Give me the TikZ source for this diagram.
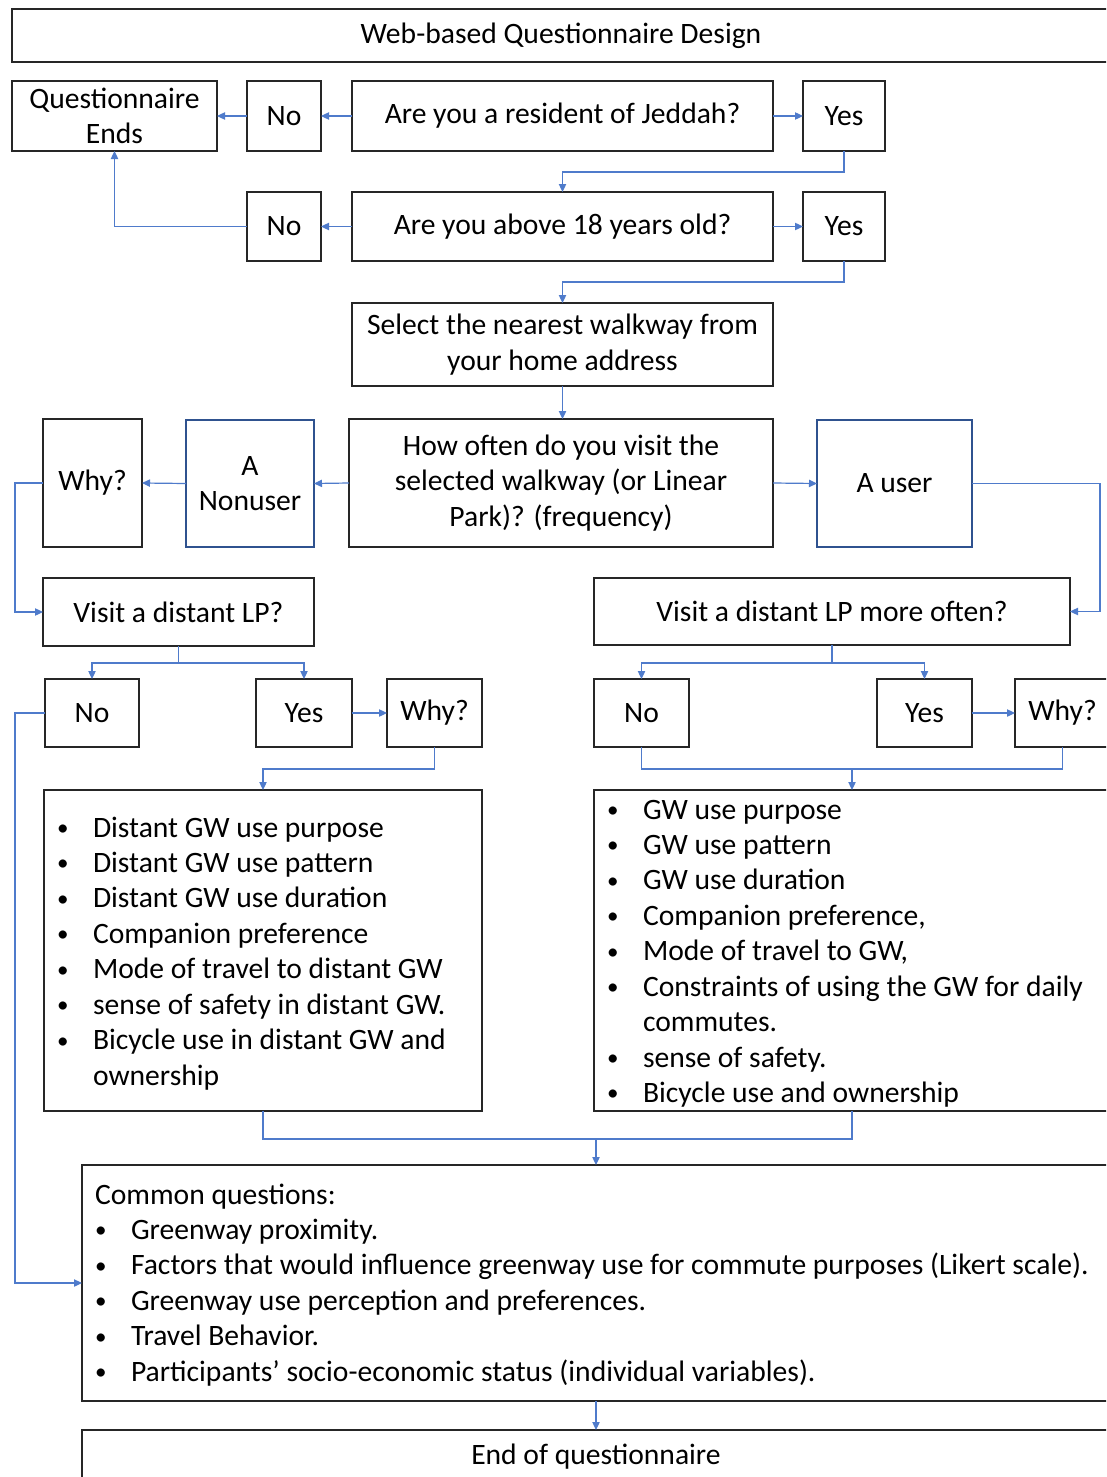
\documentclass[tikz,border=0pt]{standalone}
\usepackage{fontspec}
\usepackage{graphicx}
\setmainfont{Carlito}
\usetikzlibrary{arrows.meta}
\definecolor{link}{HTML}{4F7BCB}
\definecolor{edgeblue}{HTML}{2F528F}
% a bullet a little smaller than the font's own
\newcommand\itemdot{\raisebox{0.06em}{\scalebox{0.78}{\textbullet}}}
\begin{document}
\begin{tikzpicture}[x=0.75pt,y=-0.75pt,
  txt/.style={font=\fontsize{22.2}{26.6}\selectfont},
  box/.style 2 args={draw=black!85, line width=1.1pt, inner sep=0pt, outer sep=0pt,
    minimum width=#1*0.75pt, minimum height=#2*0.75pt, align=center, txt},
  bluebox/.style 2 args={box={#1}{#2}, draw=edgeblue},
  list/.style={inner sep=0pt, outer sep=0pt, anchor=base west, align=left, txt},
  conn/.style={draw=link, line width=0.9pt},
  arr/.style={conn, -{Triangle[length=6pt,width=5.5pt]}}]
\useasboundingbox (0,0) rectangle (1106,1477);
\clip (0,0) rectangle (1106,1477);
\fill[white] (0,0) rectangle (1106,1477);

% title
\node[box={1098}{53}] (title) at (561,35.5) {Web-based Questionnaire Design};

% screening questions
\node[box={205}{70}] (qend) at (114.5,116) {Questionnaire\\Ends};
\node[box={74}{70}] (no1) at (284,116) {No};
\node[box={421}{70}] (q1) at (562.5,116) {Are you a resident of Jeddah?};
\node[box={82}{70}] (yes1) at (844,116) {Yes};
\node[box={74}{69}] (no2) at (284,226.5) {No};
\node[box={421}{69}] (q2) at (562.5,226.5) {Are you above 18 years old?};
\node[box={82}{69}] (yes2) at (844,226.5) {Yes};
\node[box={421}{83}] (sel) at (562.5,344.5) {Select the nearest walkway from\\your home address};

% frequency split
\node[box={424}{128}] (freq) at (561,483) {How often do you visit the\\selected walkway (or Linear\\Park)? (frequency)};
\node[bluebox={155}{127}] (user) at (894.5,483.5) {A user};
\node[bluebox={128}{127}] (nonuser) at (250,483.5) {A\\Nonuser};
\node[box={99}{128}] (why1) at (92.5,483) {Why?};

% distant LP questions
\node[box={271}{68}] (vlp) at (178.5,612) {Visit a distant LP?};
\node[box={476}{67}] (vlpm) at (832,611.5) {Visit a distant LP more often?};
\node[box={94}{68}] (noL) at (92,713) {No};
\node[box={96}{68}] (yesL) at (304,713) {Yes};
\node[box={95}{68}] (whyL) at (434.5,713) {Why?};
\node[box={95}{68}] (noR) at (641.5,713) {No};
\node[box={95}{68}] (yesR) at (924.5,713) {Yes};
\node[box={95}{68}] (whyR) at (1062.5,713) {Why?};

% detail lists
\node[box={438}{321}] (bl) at (263,950.5) {};
\node[list] (bltext) at (57,837) {\begin{tabular}[t]{@{}p{27pt}@{}l@{}}
\itemdot & Distant GW use purpose\\
\itemdot & Distant GW use pattern\\
\itemdot & Distant GW use duration\\
\itemdot & Companion preference\\
\itemdot & Mode of travel to distant GW\\
\itemdot & sense of safety in distant GW.\\
\itemdot & Bicycle use in distant GW and\\
 & ownership
\end{tabular}};
\node[box={516}{321}] (br) at (852,950.5) {};
\node[list] (brtext) at (607,819) {\begin{tabular}[t]{@{}p{27pt}@{}l@{}}
\itemdot & GW use purpose\\
\itemdot & GW use pattern\\
\itemdot & GW use duration\\
\itemdot & Companion preference,\\
\itemdot & Mode of travel to GW,\\
\itemdot & Constraints of using the GW for daily\\
 & commutes.\\
\itemdot & sense of safety.\\
\itemdot & Bicycle use and ownership
\end{tabular}};

% common questions and end
\node[box={1028}{236}] (com) at (596,1283) {};
\node[list] (comtext) at (95,1204) {\begin{tabular}[t]{@{}p{27pt}@{}l@{}}
\multicolumn{2}{@{}l@{}}{Common questions:}\\
\itemdot & Greenway proximity.\\
\itemdot & Factors that would influence greenway use for commute purposes (Likert scale).\\
\itemdot & Greenway use perception and preferences.\\
\itemdot & Travel Behavior.\\
\itemdot & Participants’ socio-economic status (individual variables).
\end{tabular}};
\node[box={1028}{54}] (endb) at (596,1457) {End of questionnaire};

% junction points
\coordinate (jR) at (852,769);
\coordinate (jB) at (596,1139);

% connectors: screening
\draw[arr] (q1.west) -- (no1.east);
\draw[arr] (no1.west) -- (qend.east);
\draw[arr] (q1.east) -- (yes1.west);
\draw[arr] (yes1.south) -- ++(0,21) -| (q2.north);
\draw[arr] (q2.west) -- (no2.east);
\draw[arr] (q2.east) -- (yes2.west);
\draw[arr] (no2.west) -| (qend.south);
\draw[arr] (yes2.south) -- ++(0,21) -| (sel.north);
\draw[arr] (sel.south) -- (sel.south |- freq.north);

% connectors: user / nonuser
\draw[arr] (freq.west) -- (nonuser.east);
\draw[arr] (nonuser.west) -- (why1.east);
\draw[arr] (freq.east) -- (user.west);
\draw[arr] (why1.west) -- ++(-28,0) |- (vlp.west);
\draw[arr] (user.east) -- ++(128,0) |- (vlpm.east);

% connectors: distant LP branches
\draw[arr] (vlp.south) -- ++(0,17) -| (noL.north);
\draw[arr] (vlp.south) -- ++(0,17) -| (yesL.north);
\draw[arr] (vlpm.south) -- ++(0,18) -| (noR.north);
\draw[arr] (vlpm.south) -- ++(0,18) -| (yesR.north);
\draw[arr] (yesL.east) -- (whyL.west);
\draw[arr] (yesR.east) -- (whyR.west);
\draw[arr] (whyL.south) -- ++(0,22) -| (bl.north);
\draw[conn] (noR.south) |- (jR) -| (whyR.south);
\draw[arr] (jR) -- (br.north);

% connectors: to common questions
\draw[arr] (noL.west) -- ++(-30,0) |- (com.west);
\draw[conn] (bl.south) |- (jB) -| (br.south);
\draw[arr] (jB) -- (com.north);
\draw[arr] (com.south) -- (endb.north);
\end{tikzpicture}
\end{document}
